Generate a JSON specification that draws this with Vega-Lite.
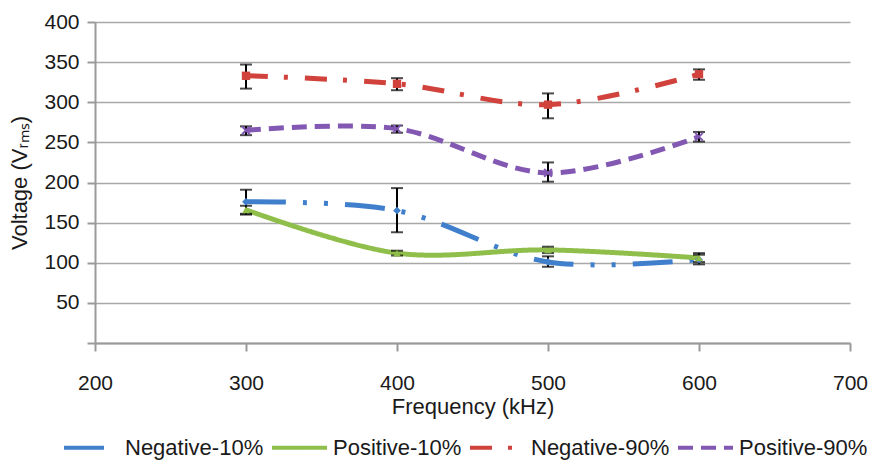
{
  "$schema": "https://vega.github.io/schema/vega-lite/v6.json",
  "width": 755,
  "height": 321,
  "autosize": {"type": "none"},
  "padding": {"left": 95, "top": 22, "right": 35, "bottom": 121},
  "background": "white",
  "config": {
    "view": {"stroke": null},
    "font": "Liberation Sans",
    "axis": {
      "labelFont": "Liberation Sans",
      "titleFont": "Liberation Sans",
      "labelFontSize": 21,
      "titleFontSize": 22,
      "labelColor": "#1a1a1a",
      "titleColor": "#1a1a1a",
      "titleFontWeight": "normal",
      "domainColor": "#9a9a9a",
      "domainWidth": 2,
      "tickColor": "#9a9a9a",
      "tickWidth": 2,
      "tickSize": 8,
      "gridColor": "#a8a8a8",
      "gridWidth": 1.6
    },
    "legend": {
      "labelFont": "Liberation Sans",
      "labelFontSize": 22,
      "labelColor": "#1a1a1a"
    }
  },
  "data": {
    "values": [
      {"series": "Negative-10%", "freq": 300, "v": 176, "lo": 161, "hi": 191},
      {"series": "Negative-10%", "freq": 400, "v": 165, "lo": 138, "hi": 193},
      {"series": "Negative-10%", "freq": 500, "v": 101, "lo": 95, "hi": 108},
      {"series": "Negative-10%", "freq": 600, "v": 104, "lo": 98, "hi": 110},
      {"series": "Positive-10%", "freq": 300, "v": 166, "lo": 160, "hi": 171},
      {"series": "Positive-10%", "freq": 400, "v": 112, "lo": 109, "hi": 115},
      {"series": "Positive-10%", "freq": 500, "v": 116, "lo": 112, "hi": 120},
      {"series": "Positive-10%", "freq": 600, "v": 106, "lo": 101, "hi": 112},
      {"series": "Negative-90%", "freq": 300, "v": 333, "lo": 317, "hi": 347},
      {"series": "Negative-90%", "freq": 400, "v": 323, "lo": 315, "hi": 330},
      {"series": "Negative-90%", "freq": 500, "v": 297, "lo": 280, "hi": 311},
      {"series": "Negative-90%", "freq": 600, "v": 335, "lo": 328, "hi": 341},
      {"series": "Positive-90%", "freq": 300, "v": 265, "lo": 259, "hi": 270},
      {"series": "Positive-90%", "freq": 400, "v": 267, "lo": 262, "hi": 271},
      {"series": "Positive-90%", "freq": 500, "v": 212, "lo": 201, "hi": 225},
      {"series": "Positive-90%", "freq": 600, "v": 257, "lo": 251, "hi": 263}
    ]
  },
  "layer": [
    {
      "mark": {"type": "line", "interpolate": "catmull-rom", "strokeWidth": 5},
      "encoding": {
        "x": {
          "field": "freq", "type": "quantitative", "title": "Frequency (kHz)",
          "scale": {"domain": [200, 700], "nice": false, "zero": false},
          "axis": {"values": [200, 300, 400, 500, 600, 700], "grid": false, "labelPadding": 21, "titlePadding": 3, "labelFlush": false}
        },
        "y": {
          "field": "v", "type": "quantitative", "title": "Voltage (Vᵣₘₛ)",
          "scale": {"domain": [0, 400], "nice": false},
          "axis": {"values": [0, 50, 100, 150, 200, 250, 300, 350, 400], "grid": true, "labelPadding": 8, "titlePadding": 12, "labelExpr": "datum.value == 0 ? '' : datum.label", "domain": true}
        },
        "color": {
          "field": "series", "type": "nominal",
          "scale": {"domain": ["Negative-10%", "Positive-10%", "Negative-90%", "Positive-90%"], "range": ["#3f7fcc", "#8fbf4a", "#d0423b", "#8258b3"]},
          "legend": {"title": null, "orient": "none", "legendX": -33, "legendY": 396, "direction": "horizontal", "symbolType": "stroke", "symbolSize": 3025, "symbolStrokeWidth": 4, "labelOffset": 4, "columnPadding": 0}
        },
        "strokeDash": {
          "field": "series", "type": "nominal",
          "scale": {"domain": ["Negative-10%", "Positive-10%", "Negative-90%", "Positive-90%"], "range": [[40, 17, 4, 17, 4, 17], [1, 0], [22, 16, 4, 17], [15, 8]]},
          "legend": {"title": null, "orient": "none", "legendX": -33, "legendY": 396, "direction": "horizontal", "symbolType": "stroke", "symbolSize": 3025, "symbolStrokeWidth": 4, "labelOffset": 4, "columnPadding": 0}
        }
      }
    },
    {
      "mark": {"type": "rule", "color": "black", "strokeWidth": 2},
      "encoding": {
        "x": {"field": "freq", "type": "quantitative", "title": "Frequency (kHz)"},
        "y": {"field": "lo", "type": "quantitative", "title": "Voltage (Vᵣₘₛ)"},
        "y2": {"field": "hi"}
      }
    },
    {
      "mark": {"type": "tick", "orient": "horizontal", "color": "black", "size": 12, "thickness": 2},
      "encoding": {
        "x": {"field": "freq", "type": "quantitative", "title": "Frequency (kHz)"},
        "y": {"field": "lo", "type": "quantitative", "title": "Voltage (Vᵣₘₛ)"}
      }
    },
    {
      "mark": {"type": "tick", "orient": "horizontal", "color": "black", "size": 12, "thickness": 2},
      "encoding": {
        "x": {"field": "freq", "type": "quantitative", "title": "Frequency (kHz)"},
        "y": {"field": "hi", "type": "quantitative", "title": "Voltage (Vᵣₘₛ)"}
      }
    },
    {
      "transform": [{"filter": "datum.series == 'Negative-10%'"}],
      "mark": {"type": "point", "filled": true, "size": 60, "opacity": 1, "shape": "diamond", "color": "#3f7fcc"},
      "encoding": {
        "x": {"field": "freq", "type": "quantitative", "title": "Frequency (kHz)"},
        "y": {"field": "v", "type": "quantitative", "title": "Voltage (Vᵣₘₛ)"}
      }
    },
    {
      "transform": [{"filter": "datum.series == 'Positive-10%'"}],
      "mark": {"type": "point", "filled": true, "size": 60, "opacity": 1, "shape": "triangle-up", "color": "#8fbf4a"},
      "encoding": {
        "x": {"field": "freq", "type": "quantitative", "title": "Frequency (kHz)"},
        "y": {"field": "v", "type": "quantitative", "title": "Voltage (Vᵣₘₛ)"}
      }
    },
    {
      "transform": [{"filter": "datum.series == 'Negative-90%'"}],
      "mark": {"type": "point", "filled": true, "size": 70, "opacity": 1, "shape": "square", "color": "#d0423b"},
      "encoding": {
        "x": {"field": "freq", "type": "quantitative", "title": "Frequency (kHz)"},
        "y": {"field": "v", "type": "quantitative", "title": "Voltage (Vᵣₘₛ)"}
      }
    },
    {
      "transform": [{"filter": "datum.series == 'Positive-90%'"}],
      "mark": {"type": "point", "filled": false, "size": 60, "opacity": 1, "shape": "M-1,-1L1,1M-1,1L1,-1", "strokeWidth": 2, "color": "#8258b3"},
      "encoding": {
        "x": {"field": "freq", "type": "quantitative", "title": "Frequency (kHz)"},
        "y": {"field": "v", "type": "quantitative", "title": "Voltage (Vᵣₘₛ)"}
      }
    }
  ]
}
